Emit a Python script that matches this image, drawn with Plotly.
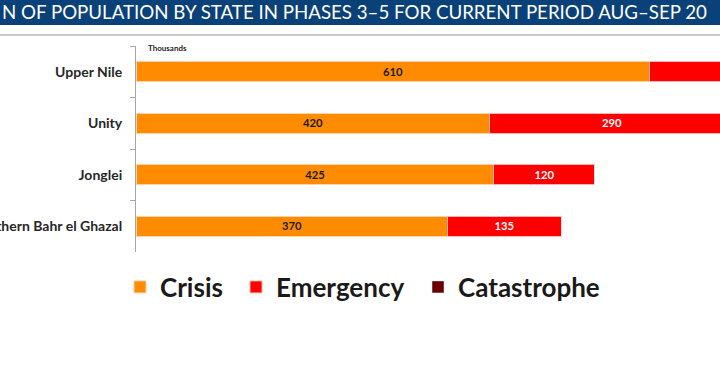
import plotly.graph_objects as go

states = ["Upper Nile", "Unity", "Jonglei", "Northern Bahr el Ghazal"]
crisis = [610, 420, 425, 370]
emergency = [190, 290, 120, 135]
catastrophe = [0, 0, 0, 0]
title_text = "N OF POPULATION BY STATE IN PHASES 3–5 FOR CURRENT PERIOD AUG–SEP 20"
unit_text = "Thousands"

W, H = 720, 380
ML, MR, MT, MB = 136, 0, 46, 128
PW, PH = W - ML - MR, H - MT - MB

def px(x):
    return (x - ML) / PW

def py(y):
    return (H - MB - y) / PH

FONT = "Lato"
LEG_FONT = dict(family=FONT, size=26, color="#1a1a1a", weight="bold")

fig = go.Figure()
fig.add_trace(go.Bar(
    name="Crisis", y=states, x=crisis, orientation="h", legend="legend",
    marker=dict(color="#FF8C00", line=dict(color="#FFD3A8", width=1)),
    text=[str(v) for v in crisis], textposition="inside", insidetextanchor="middle",
    textfont=dict(family=FONT, size=12, color="#1a1a1a", weight="bold"),
))
fig.add_trace(go.Bar(
    name="Emergency", y=states, x=emergency, orientation="h", legend="legend2",
    marker=dict(color="#FF0000", line=dict(color="#FFB5B5", width=1)),
    text=[str(v) for v in emergency], textposition="inside", insidetextanchor="middle",
    textfont=dict(family=FONT, size=12, color="#FFFFFF", weight="bold"),
))
fig.add_trace(go.Bar(
    name="Catastrophe", y=states, x=catastrophe, orientation="h", legend="legend3",
    marker=dict(color="#6B0000"),
    hoverinfo="skip",
))

def leg(xpix):
    return dict(orientation="h", x=px(xpix), xanchor="left", y=py(287), yanchor="middle",
                font=LEG_FONT, bgcolor="rgba(0,0,0,0)")

fig.update_layout(
    width=W, height=H,
    margin=dict(l=ML, r=MR, t=MT, b=MB, autoexpand=False),
    barmode="stack", bargap=0.61,
    plot_bgcolor="white", paper_bgcolor="white",
    xaxis=dict(range=[0, 693.6], visible=False, fixedrange=True),
    yaxis=dict(
        categoryorder="array", categoryarray=states, autorange="reversed",
        showline=True, linecolor="#A6A6A6", linewidth=1,
        ticks="outside", tickson="boundaries", ticklen=5, tickcolor="#A6A6A6",
        tickfont=dict(family=FONT, size=14, color="#262626", weight="bold"),
        automargin=False, showgrid=False, ticklabelstandoff=10,
    ),
    showlegend=True,
    legend=leg(120),
    legend2=leg(236),
    legend3=leg(418),
    shapes=[
        dict(type="rect", xref="paper", yref="paper", x0=px(-5), x1=px(725),
             y0=py(25), y1=py(-5), fillcolor="#0B4179", line=dict(width=0), layer="above"),
        dict(type="line", xref="paper", yref="paper", x0=px(-5), x1=px(725),
             y0=py(35), y1=py(35), line=dict(color="#C9C9C9", width=2)),
    ],
    annotations=[
        dict(text=title_text, xref="paper", yref="paper", x=px(0), y=py(12.5),
             xanchor="left", yanchor="middle", showarrow=False,
             font=dict(family=FONT, size=18.7, color="white")),
        dict(text=unit_text, xref="paper", yref="paper", x=px(146), y=py(48),
             xanchor="left", yanchor="middle", showarrow=False,
             font=dict(family=FONT, size=8, color="#262626", weight="bold")),
    ],
)

fig.write_html("out.html", config={"displayModeBar": False},
               post_script="document.body.style.margin='0';document.body.style.overflow='hidden';")
